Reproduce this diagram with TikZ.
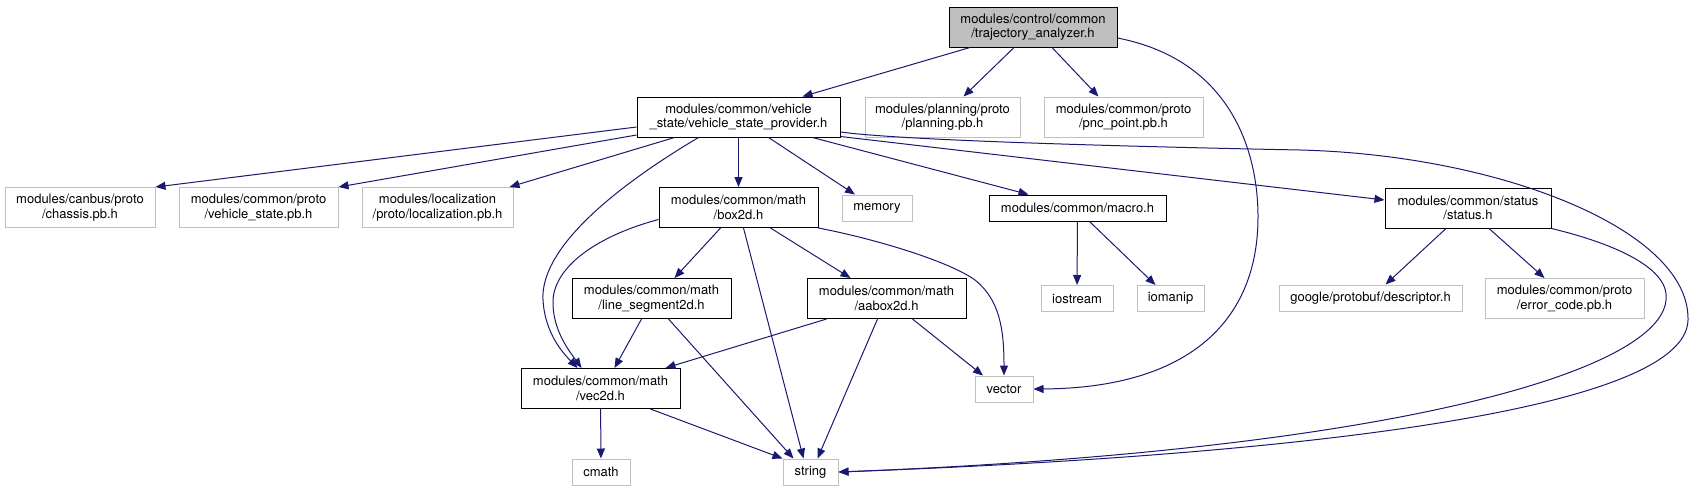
\documentclass[tikz,border=0pt]{standalone}
\usepackage{fontspec}
\setmainfont{TeX Gyre Heros}
\usetikzlibrary{
	arrows.meta
}
\definecolor{IncBlue}{RGB}{25,25,112}
\definecolor{IncGrey}{RGB}{191,191,191}

\tikzset{
	filebox/.style={
		draw=black,
		fill=white,
		line width=1pt,
		inner sep=0pt,
		minimum height=40pt,
		align=center,
		font=\fontsize{13}{14.5}\selectfont
	},
	extbox/.style={filebox, draw=IncGrey},
	rootbox/.style={filebox, fill=IncGrey},
	onebox/.style={minimum height=26pt},
	incl/.style={
		IncBlue,
		line width=1pt,
		-{Triangle[length=10pt,width=8pt]}
	}
}

\begin{document}
\begin{tikzpicture}[x=1pt,y=-1pt]

	\useasboundingbox (0,0) rectangle (1693,491);

	% Root file
	\node[rootbox, minimum width=168pt] (traj) at (1033,27)
		{modules/control/common\\/trajectory\_analyzer.h};

	% First level
	\node[filebox, minimum width=203pt] (vsp) at (738.5,117)
		{modules/common/vehicle\\\_state/vehicle\_state\_provider.h};
	\node[extbox, minimum width=155pt] (planning) at (942.5,117)
		{modules/planning/proto\\/planning.pb.h};
	\node[extbox, minimum width=159pt] (pnc) at (1123.5,117)
		{modules/common/proto\\/pnc\_point.pb.h};

	% Second level
	\node[extbox, minimum width=150pt] (chassis) at (80,207.5)
		{modules/canbus/proto\\/chassis.pb.h};
	\node[extbox, minimum width=159pt] (vstate) at (258.5,207.5)
		{modules/common/proto\\/vehicle\_state.pb.h};
	\node[extbox, minimum width=151pt] (loc) at (437.5,207.5)
		{modules/localization\\/proto/localization.pb.h};
	\node[filebox, minimum width=159pt] (box2d) at (738.5,207.5)
		{modules/common/math\\/box2d.h};
	\node[extbox, onebox, minimum width=70pt] (memory) at (877,208)
		{memory};
	\node[filebox, onebox, minimum width=177pt] (macro) at (1077.5,208)
		{modules/common/macro.h};
	\node[filebox, minimum width=166pt] (status) at (1468,208)
		{modules/common/status\\/status.h};

	% Third level
	\node[filebox, minimum width=159pt] (lineseg) at (651.5,298.5)
		{modules/common/math\\/line\_segment2d.h};
	\node[filebox, minimum width=159pt] (aabox) at (886.5,298.5)
		{modules/common/math\\/aabox2d.h};
	\node[extbox, onebox, minimum width=72pt] (iostream) at (1077,298.5)
		{iostream};
	\node[extbox, onebox, minimum width=67pt] (iomanip) at (1170.5,298.5)
		{iomanip};
	\node[extbox, onebox, minimum width=183pt] (descriptor) at (1370.5,298)
		{google/protobuf/descriptor.h};
	\node[extbox, minimum width=159pt] (errcode) at (1564.5,298.5)
		{modules/common/proto\\/error\_code.pb.h};

	% Fourth level
	\node[filebox, minimum width=159pt] (vec2d) at (600.5,388.5)
		{modules/common/math\\/vec2d.h};
	\node[extbox, onebox, minimum width=58pt] (vector) at (1004,389)
		{vector};

	% Bottom
	\node[extbox, onebox, minimum width=58pt] (cmath) at (601,472)
		{cmath};
	\node[extbox, onebox, minimum width=55pt] (string) at (810.5,472)
		{string};

	% Includes of the root
	\draw[incl] ([xshift=-63pt]traj.south) -- ([xshift=64pt]vsp.north);
	\draw[incl] ([xshift=-19pt]traj.south) -- ([xshift=21pt]planning.north);
	\draw[incl] ([xshift=19pt]traj.south) -- ([xshift=-25pt]pnc.north);
	\draw[incl] ([yshift=-11pt]traj.east)
		.. controls (1230,60) and (1258,150) .. (1258,217)
		.. controls (1258,320) and (1190,388) .. (vector.east);

	% Includes of vehicle_state_provider.h
	\draw[incl] ([yshift=-10pt]vsp.west) -- (chassis.north east);
	\draw[incl] ([yshift=-18pt]vsp.west) -- (vstate.north east);
	\draw[incl] ([xshift=-64pt]vsp.south) -- ([xshift=-4pt]loc.north east);
	\draw[incl] ([xshift=-40pt]vsp.south)
		.. controls (610,190) and (540,250) .. (543,300)
		.. controls (545,335) and (565,355) .. ([xshift=-23pt]vec2d.north);
	\draw[incl] (vsp) -- (box2d);
	\draw[incl] ([xshift=30pt]vsp.south) -- ([xshift=-22pt]memory.north);
	\draw[incl] ([xshift=74pt]vsp.south) -- ([xshift=-49pt]macro.north);
	\draw[incl] ([yshift=1pt]vsp.south east) -- ([yshift=8pt]status.west);
	\draw[incl] ([yshift=-15pt]vsp.east)
		.. controls (900,140) and (1100,146) .. (1300,150)
		.. controls (1500,155) and (1690,230) .. (1688,320)
		.. controls (1686,410) and (1300,455) .. (string.east);

	% Includes of status.h
	\draw[incl] (status.south east)
		.. controls (1620,245) and (1670,270) .. (1666,300)
		.. controls (1660,370) and (1400,450) .. (string.east);
	\draw[incl] ([xshift=-22pt]status.south) -- ([xshift=15pt]descriptor.north);
	\draw[incl] ([xshift=21pt]status.south) -- ([xshift=-20pt]errcode.north);

	% Includes of macro.h
	\draw[incl] (macro) -- (iostream);
	\draw[incl] ([xshift=12pt]macro.south) -- ([xshift=-15pt]iomanip.north);

	% Includes of box2d.h
	\draw[incl] ([xshift=-18pt]box2d.south) -- ([xshift=23pt]lineseg.north);
	\draw[incl] ([xshift=5pt]box2d.south) -- ([xshift=-7pt]string.north);
	\draw[incl] ([xshift=32pt]box2d.south) -- ([xshift=-36pt]aabox.north);
	\draw[incl] ([yshift=-12pt]box2d.west)
		.. controls (600,235) and (555,265) .. (553,300)
		.. controls (552,330) and (570,352) .. ([xshift=-19pt]vec2d.north);
	\draw[incl] (box2d.south east)
		.. controls (880,240) and (950,262) .. (975,280)
		.. controls (1000,300) and (1004,330) .. (vector.north);

	% Includes of line_segment2d.h and aabox2d.h
	\draw[incl] ([xshift=-10pt]lineseg.south) -- ([xshift=14pt]vec2d.north);
	\draw[incl] ([xshift=17pt]lineseg.south) -- ([xshift=-17pt]string.north);
	\draw[incl] ([xshift=-60pt]aabox.south) -- ([xshift=65pt]vec2d.north);
	\draw[incl] ([xshift=-9pt]aabox.south) -- ([xshift=7pt]string.north);
	\draw[incl] ([xshift=26pt]aabox.south) -- ([xshift=-21pt]vector.north);

	% Includes of vec2d.h
	\draw[incl] (vec2d) -- (cmath);
	\draw[incl] ([xshift=50pt]vec2d.south) -- (string.north west);

\end{tikzpicture}
\end{document}
